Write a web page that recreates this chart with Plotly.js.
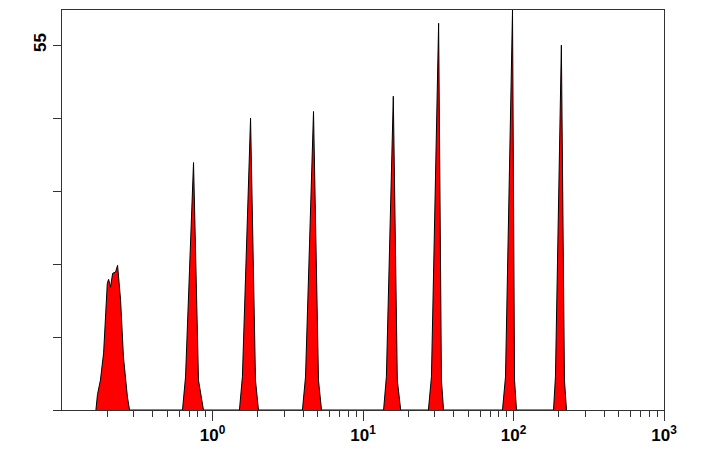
<!DOCTYPE html>
<html>
<head>
<meta charset="utf-8">
<script src="https://cdn.plot.ly/plotly-3.0.1.min.js"></script>
<style>body{margin:0;background:#fff}#chart{width:703px;height:451px}</style>
</head>
<body>
<div id="chart"></div>
<script>
// histogram outline (channel value, count)
const histX = [
  0.168, 0.172, 0.180, 0.189, 0.200, 0.204, 0.210, 0.217, 0.227, 0.234, 0.245, 0.256, 0.272, 0.281,
  0.632, 0.662, 0.748, 0.807, 0.871,
  1.51, 1.58, 1.79, 1.93, 2.02,
  3.96, 4.15, 4.69, 5.06, 5.30,
  13.7, 14.3, 15.9, 16.9, 17.8,
  27.2, 28.5, 31.8, 33.2, 34.3,
  84.5, 88.5, 98.5, 101.6, 104.7,
  184.5, 190, 208, 218, 225
];
const histY = [
  0, 2.3, 4.5, 8.6, 19.1, 19.7, 18.5, 20.6, 20.8, 21.8, 16.6, 8.0, 2.0, 0,
  0, 5, 37.3, 4.5, 0,
  0, 5, 44, 4.5, 0,
  0, 5, 45, 4.5, 0,
  0, 5, 47.3, 4.5, 0,
  0, 5, 58.3, 4.5, 0,
  0, 5, 60.3, 4.5, 0,
  0, 5, 55, 4.5, 0
];
const xTickVals = [1, 10, 100, 1000];
const xTickText = ['<b>10<sup>0</sup></b>', '<b>10<sup>1</sup></b>', '<b>10<sup>2</sup></b>', '<b>10<sup>3</sup></b>'];
const yTickVals = [0, 11, 22, 33, 44, 55];
const yTickText = ['', '', '', '', '', '<b>55</b>'];

const minorVals = [];
for (let d = -1; d < 3; d++) {
  for (let k = 2; k <= 9; k++) minorVals.push(k * Math.pow(10, d));
}

const trace = {
  type: 'scatter',
  mode: 'lines',
  x: histX,
  y: histY,
  fill: 'tozeroy',
  fillcolor: '#ff0000',
  line: {color: '#000', width: 1},
  hoverinfo: 'skip'
};

const font = {family: 'Arial', size: 17, color: '#000'};

const layout = {
  width: 703, height: 451,
  margin: {l: 62, r: 39, t: 10, b: 41},
  paper_bgcolor: '#fff', plot_bgcolor: '#fff',
  showlegend: false,
  font: font,
  xaxis: {
    type: 'log', range: [-1, 3],
    tickvals: xTickVals, ticktext: xTickText,
    ticks: 'outside', ticklen: 10, tickcolor: '#333',
    minor: {tickvals: minorVals, ticks: 'outside', ticklen: 6, tickcolor: '#333', showgrid: false},
    showgrid: false, zeroline: false,
    showline: true, linecolor: '#333', linewidth: 1, mirror: true,
    tickfont: font
  },
  yaxis: {
    range: [0, 60.3],
    tickvals: yTickVals, ticktext: yTickText,
    ticks: 'outside', ticklen: 8, tickcolor: '#333',
    tickangle: -90,
    showgrid: false, zeroline: false,
    showline: true, linecolor: '#333', linewidth: 1, mirror: true,
    tickfont: font
  }
};

Plotly.newPlot('chart', [trace], layout, {displayModeBar: false, staticPlot: true});
</script>
</body>
</html>
